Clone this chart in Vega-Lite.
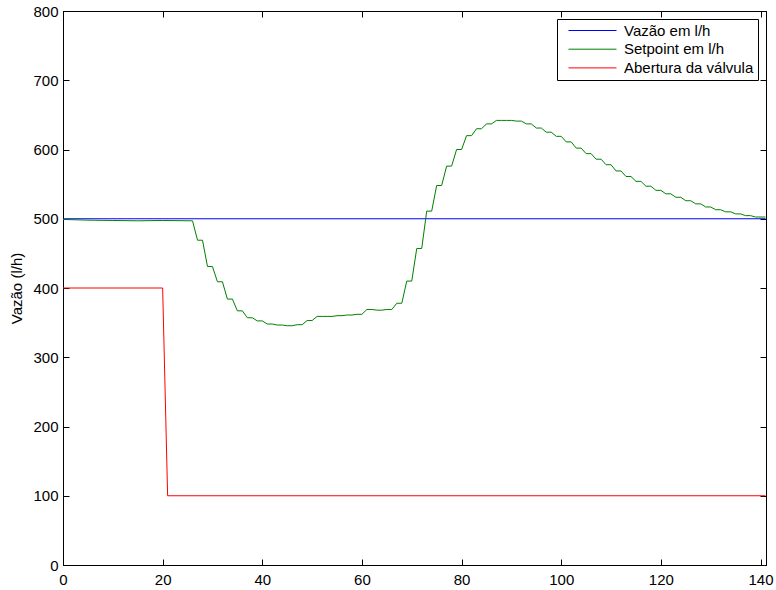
{
  "$schema": "https://vega.github.io/schema/vega-lite/v6.json",
  "width": 703,
  "height": 554,
  "autosize": {"type": "none"},
  "padding": {"left": 63, "top": 11, "right": 10, "bottom": 25},
  "background": "white",
  "config": {
    "font": "Liberation Sans",
    "view": {"stroke": "black", "strokeWidth": 1},
    "axis": {
      "labelFont": "Liberation Sans",
      "labelFontSize": 15,
      "labelColor": "black",
      "titleFont": "Liberation Sans",
      "titleFontSize": 15,
      "titleFontWeight": "normal",
      "titleColor": "black",
      "domainColor": "black",
      "tickColor": "black",
      "grid": false
    },
    "legend": {
      "labelFont": "Liberation Sans",
      "labelFontSize": 15,
      "labelColor": "black"
    }
  },
  "data": {
    "values": [
      {"t": 0, "v": 500, "s": "Vazão em l/h"},
      {"t": 141, "v": 500, "s": "Vazão em l/h"},
      {"t": 0, "v": 400, "s": "Abertura da válvula"},
      {"t": 20, "v": 400, "s": "Abertura da válvula"},
      {"t": 21, "v": 100, "s": "Abertura da válvula"},
      {"t": 141, "v": 100, "s": "Abertura da válvula"},
      {"t": 0, "v": 499, "s": "Setpoint em l/h"},
      {"t": 5, "v": 498, "s": "Setpoint em l/h"},
      {"t": 10, "v": 497.5, "s": "Setpoint em l/h"},
      {"t": 15, "v": 497, "s": "Setpoint em l/h"},
      {"t": 20, "v": 497.5, "s": "Setpoint em l/h"},
      {"t": 26, "v": 497, "s": "Setpoint em l/h"},
      {"t": 27, "v": 469, "s": "Setpoint em l/h"},
      {"t": 28, "v": 469, "s": "Setpoint em l/h"},
      {"t": 29, "v": 431, "s": "Setpoint em l/h"},
      {"t": 30, "v": 431, "s": "Setpoint em l/h"},
      {"t": 31, "v": 409, "s": "Setpoint em l/h"},
      {"t": 32, "v": 409, "s": "Setpoint em l/h"},
      {"t": 33, "v": 384, "s": "Setpoint em l/h"},
      {"t": 34, "v": 384, "s": "Setpoint em l/h"},
      {"t": 35, "v": 367, "s": "Setpoint em l/h"},
      {"t": 36, "v": 367, "s": "Setpoint em l/h"},
      {"t": 37, "v": 357, "s": "Setpoint em l/h"},
      {"t": 38, "v": 357, "s": "Setpoint em l/h"},
      {"t": 39, "v": 352.5, "s": "Setpoint em l/h"},
      {"t": 40, "v": 352.5, "s": "Setpoint em l/h"},
      {"t": 41, "v": 348, "s": "Setpoint em l/h"},
      {"t": 42, "v": 348, "s": "Setpoint em l/h"},
      {"t": 43, "v": 346.5, "s": "Setpoint em l/h"},
      {"t": 44, "v": 346.5, "s": "Setpoint em l/h"},
      {"t": 45, "v": 345.5, "s": "Setpoint em l/h"},
      {"t": 46, "v": 345.5, "s": "Setpoint em l/h"},
      {"t": 47, "v": 347, "s": "Setpoint em l/h"},
      {"t": 48, "v": 347, "s": "Setpoint em l/h"},
      {"t": 49, "v": 353, "s": "Setpoint em l/h"},
      {"t": 50, "v": 353, "s": "Setpoint em l/h"},
      {"t": 51, "v": 359, "s": "Setpoint em l/h"},
      {"t": 52, "v": 359, "s": "Setpoint em l/h"},
      {"t": 53, "v": 359, "s": "Setpoint em l/h"},
      {"t": 54, "v": 359, "s": "Setpoint em l/h"},
      {"t": 55, "v": 360, "s": "Setpoint em l/h"},
      {"t": 56, "v": 360, "s": "Setpoint em l/h"},
      {"t": 57, "v": 361, "s": "Setpoint em l/h"},
      {"t": 58, "v": 361, "s": "Setpoint em l/h"},
      {"t": 59, "v": 362, "s": "Setpoint em l/h"},
      {"t": 60, "v": 362, "s": "Setpoint em l/h"},
      {"t": 61, "v": 369, "s": "Setpoint em l/h"},
      {"t": 62, "v": 369, "s": "Setpoint em l/h"},
      {"t": 63, "v": 368, "s": "Setpoint em l/h"},
      {"t": 64, "v": 368, "s": "Setpoint em l/h"},
      {"t": 65, "v": 369, "s": "Setpoint em l/h"},
      {"t": 66, "v": 369, "s": "Setpoint em l/h"},
      {"t": 67, "v": 378, "s": "Setpoint em l/h"},
      {"t": 68, "v": 378, "s": "Setpoint em l/h"},
      {"t": 69, "v": 410, "s": "Setpoint em l/h"},
      {"t": 70, "v": 410, "s": "Setpoint em l/h"},
      {"t": 71, "v": 457, "s": "Setpoint em l/h"},
      {"t": 72, "v": 457, "s": "Setpoint em l/h"},
      {"t": 73, "v": 511, "s": "Setpoint em l/h"},
      {"t": 74, "v": 511, "s": "Setpoint em l/h"},
      {"t": 75, "v": 548, "s": "Setpoint em l/h"},
      {"t": 76, "v": 548, "s": "Setpoint em l/h"},
      {"t": 77, "v": 576, "s": "Setpoint em l/h"},
      {"t": 78, "v": 576, "s": "Setpoint em l/h"},
      {"t": 79, "v": 600, "s": "Setpoint em l/h"},
      {"t": 80, "v": 600, "s": "Setpoint em l/h"},
      {"t": 81, "v": 620, "s": "Setpoint em l/h"},
      {"t": 82, "v": 620, "s": "Setpoint em l/h"},
      {"t": 83, "v": 630, "s": "Setpoint em l/h"},
      {"t": 84, "v": 630, "s": "Setpoint em l/h"},
      {"t": 85, "v": 637, "s": "Setpoint em l/h"},
      {"t": 86, "v": 637, "s": "Setpoint em l/h"},
      {"t": 87, "v": 642, "s": "Setpoint em l/h"},
      {"t": 88, "v": 642, "s": "Setpoint em l/h"},
      {"t": 89, "v": 642, "s": "Setpoint em l/h"},
      {"t": 90, "v": 642, "s": "Setpoint em l/h"},
      {"t": 91, "v": 641, "s": "Setpoint em l/h"},
      {"t": 92, "v": 641, "s": "Setpoint em l/h"},
      {"t": 93, "v": 637, "s": "Setpoint em l/h"},
      {"t": 94, "v": 637, "s": "Setpoint em l/h"},
      {"t": 95, "v": 631, "s": "Setpoint em l/h"},
      {"t": 96, "v": 631, "s": "Setpoint em l/h"},
      {"t": 97, "v": 625, "s": "Setpoint em l/h"},
      {"t": 98, "v": 625, "s": "Setpoint em l/h"},
      {"t": 99, "v": 619, "s": "Setpoint em l/h"},
      {"t": 100, "v": 619, "s": "Setpoint em l/h"},
      {"t": 101, "v": 611, "s": "Setpoint em l/h"},
      {"t": 102, "v": 611, "s": "Setpoint em l/h"},
      {"t": 103, "v": 602, "s": "Setpoint em l/h"},
      {"t": 104, "v": 602, "s": "Setpoint em l/h"},
      {"t": 105, "v": 594, "s": "Setpoint em l/h"},
      {"t": 106, "v": 594, "s": "Setpoint em l/h"},
      {"t": 107, "v": 586, "s": "Setpoint em l/h"},
      {"t": 108, "v": 586, "s": "Setpoint em l/h"},
      {"t": 109, "v": 578, "s": "Setpoint em l/h"},
      {"t": 110, "v": 578, "s": "Setpoint em l/h"},
      {"t": 111, "v": 569, "s": "Setpoint em l/h"},
      {"t": 112, "v": 569, "s": "Setpoint em l/h"},
      {"t": 113, "v": 561, "s": "Setpoint em l/h"},
      {"t": 114, "v": 561, "s": "Setpoint em l/h"},
      {"t": 115, "v": 554, "s": "Setpoint em l/h"},
      {"t": 116, "v": 554, "s": "Setpoint em l/h"},
      {"t": 117, "v": 547, "s": "Setpoint em l/h"},
      {"t": 118, "v": 547, "s": "Setpoint em l/h"},
      {"t": 119, "v": 541, "s": "Setpoint em l/h"},
      {"t": 120, "v": 541, "s": "Setpoint em l/h"},
      {"t": 121, "v": 536, "s": "Setpoint em l/h"},
      {"t": 122, "v": 536, "s": "Setpoint em l/h"},
      {"t": 123, "v": 531, "s": "Setpoint em l/h"},
      {"t": 124, "v": 531, "s": "Setpoint em l/h"},
      {"t": 125, "v": 526, "s": "Setpoint em l/h"},
      {"t": 126, "v": 526, "s": "Setpoint em l/h"},
      {"t": 127, "v": 521.5, "s": "Setpoint em l/h"},
      {"t": 128, "v": 521.5, "s": "Setpoint em l/h"},
      {"t": 129, "v": 517, "s": "Setpoint em l/h"},
      {"t": 130, "v": 517, "s": "Setpoint em l/h"},
      {"t": 131, "v": 513, "s": "Setpoint em l/h"},
      {"t": 132, "v": 513, "s": "Setpoint em l/h"},
      {"t": 133, "v": 510, "s": "Setpoint em l/h"},
      {"t": 134, "v": 510, "s": "Setpoint em l/h"},
      {"t": 135, "v": 507, "s": "Setpoint em l/h"},
      {"t": 136, "v": 507, "s": "Setpoint em l/h"},
      {"t": 137, "v": 504.5, "s": "Setpoint em l/h"},
      {"t": 138, "v": 504.5, "s": "Setpoint em l/h"},
      {"t": 139, "v": 502.5, "s": "Setpoint em l/h"},
      {"t": 141, "v": 502.5, "s": "Setpoint em l/h"}
    ]
  },
  "resolve": {"axis": {"x": "independent", "y": "independent"}},
  "layer": [
    {
      "mark": {"type": "line", "strokeWidth": 1, "clip": true},
      "encoding": {
        "x": {
          "field": "t", "type": "quantitative",
          "scale": {"domain": [0, 141.1], "nice": false, "zero": false},
          "axis": {"orient": "bottom", "values": [0, 20, 40, 60, 80, 100, 120, 140], "tickSize": -6, "labelPadding": 13, "title": null, "labelFlush": false}
        },
        "y": {
          "field": "v", "type": "quantitative",
          "scale": {"domain": [0, 800], "nice": false},
          "axis": {"orient": "left", "values": [0, 100, 200, 300, 400, 500, 600, 700, 800], "tickSize": -6, "labelPadding": 11, "title": "Vazão (l/h)", "titlePadding": 8, "labelFlush": false}
        },
        "color": {
          "field": "s", "type": "nominal",
          "scale": {"domain": ["Vazão em l/h", "Setpoint em l/h", "Abertura da válvula"], "range": ["#0000ff", "#008000", "#ff0000"]},
          "legend": {
            "title": null,
            "orient": "top-right",
            "offset": 8,
            "symbolType": "M0,0H8",
            "symbolSize": 144,
            "symbolStrokeWidth": 1,
            "labelOffset": 48,
            "strokeColor": "black",
            "fillColor": "white",
            "padding": 4,
            "rowPadding": 2.7
          }
        },
        "order": {"field": "t", "type": "quantitative"}
      }
    },
    {
      "mark": {"type": "line", "opacity": 0},
      "encoding": {
        "x": {
          "field": "t", "type": "quantitative",
          "axis": {"orient": "top", "values": [0, 20, 40, 60, 80, 100, 120, 140], "tickSize": -6, "labels": false, "title": null}
        },
        "y": {
          "field": "v", "type": "quantitative",
          "axis": {"orient": "right", "values": [0, 100, 200, 300, 400, 500, 600, 700, 800], "tickSize": -6, "labels": false, "title": null}
        },
        "detail": {"field": "s"}
      }
    }
  ]
}
